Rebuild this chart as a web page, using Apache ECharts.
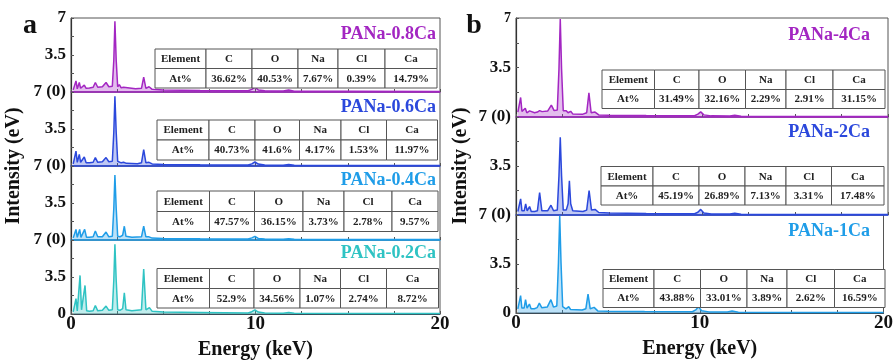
<!DOCTYPE html>
<html>
<head>
<meta charset="utf-8">
<script src="https://cdn.jsdelivr.net/npm/echarts@6/dist/echarts.min.js"></script>
<style>
  html, body { margin: 0; padding: 0; background: #fff; }
  #chart { width: 896px; height: 362px; }
</style>
</head>
<body>
<div id="chart"></div>
<script>
const FONT = '"Liberation Serif", "Times New Roman", serif'

// sample names
const namesA = ['PANa-0.8Ca', 'PANa-0.6Ca', 'PANa-0.4Ca', 'PANa-0.2Ca']
const namesB = ['PANa-4Ca', 'PANa-2Ca', 'PANa-1Ca']

// EDS composition tables
const elements = ['Element', 'C', 'O', 'Na', 'Cl', 'Ca']
const rowLabel = 'At%'
const atA = [
  ['36.62%', '40.53%', '7.67%', '0.39%', '14.79%'],
  ['40.73%', '41.6%', '4.17%', '1.53%', '11.97%'],
  ['47.57%', '36.15%', '3.73%', '2.78%', '9.57%'],
  ['52.9%', '34.56%', '1.07%', '2.74%', '8.72%']
]
const atB = [
  ['31.49%', '32.16%', '2.29%', '2.91%', '31.15%'],
  ['45.19%', '26.89%', '7.13%', '3.31%', '17.48%'],
  ['43.88%', '33.01%', '3.89%', '2.62%', '16.59%']
]

// axis ticks
const xTicks = [0, 10, 20]

// spectra: [energy keV, intensity]
const specA08 = [[0.12,0.2],[0.2,0.3],[0.27,1.05],[0.34,0.3],[0.4,0.35],[0.45,0.9],[0.52,0.35],[0.62,0.35],[0.72,0.65],[0.82,0.35],[1.0,0.38],[1.2,0.45],[1.32,0.9],[1.45,0.45],[1.7,0.5],[1.9,0.9],[2.05,0.5],[2.24,0.55],[2.32,3.0],[2.38,6.7],[2.45,3.0],[2.53,0.5],[2.62,0.7],[2.72,0.4],[2.85,0.45],[2.95,0.35],[3.5,0.3],[3.82,0.35],[3.94,1.4],[4.06,0.35],[4.23,0.5],[4.4,0.25],[5,0.2],[7,0.15],[9.6,0.12],[9.8,0.25],[9.97,0.45],[10.15,0.2],[10.5,0.12],[11.5,0.1],[11.8,0.18],[12.1,0.08],[15,0.06],[20,0.05]]
const specA06 = [[0.12,0.2],[0.2,0.35],[0.27,1.4],[0.34,0.35],[0.4,0.35],[0.45,1.1],[0.52,0.35],[0.62,0.35],[0.72,0.85],[0.82,0.3],[1.0,0.3],[1.2,0.35],[1.32,0.8],[1.45,0.35],[1.7,0.4],[1.9,0.8],[2.05,0.4],[2.24,0.45],[2.32,3.2],[2.38,6.6],[2.45,3.2],[2.53,0.45],[2.62,0.4],[2.72,0.3],[2.85,0.35],[3.0,0.25],[3.6,0.22],[3.82,0.3],[3.94,1.55],[4.06,0.3],[4.23,0.35],[4.4,0.2],[5,0.15],[7,0.12],[9.6,0.1],[9.8,0.2],[9.97,0.4],[10.15,0.18],[10.5,0.1],[11.5,0.08],[11.8,0.15],[12.1,0.07],[15,0.05],[20,0.04]]
const specA04 = [[0.12,0.2],[0.2,0.25],[0.27,1.0],[0.34,0.25],[0.4,0.25],[0.47,1.0],[0.54,0.25],[0.64,0.25],[0.74,1.0],[0.84,0.25],[1.0,0.25],[1.2,0.3],[1.32,0.85],[1.45,0.3],[1.7,0.3],[1.9,0.75],[2.05,0.3],[2.24,0.35],[2.32,3.0],[2.38,6.15],[2.45,3.0],[2.53,0.35],[2.65,0.3],[2.8,0.45],[2.89,1.3],[2.98,0.35],[3.3,0.25],[3.82,0.3],[3.94,1.3],[4.06,0.3],[4.23,0.3],[4.4,0.18],[5,0.15],[7,0.12],[9.6,0.1],[9.8,0.2],[9.97,0.35],[10.15,0.15],[10.5,0.1],[11.5,0.08],[11.8,0.12],[12.1,0.07],[15,0.05],[20,0.04]]
const specA02 = [[0.12,0.2],[0.2,0.3],[0.27,1.45],[0.34,0.3],[0.42,0.4],[0.49,3.65],[0.57,0.4],[0.66,0.35],[0.76,2.7],[0.85,0.3],[1.0,0.25],[1.2,0.3],[1.32,0.8],[1.45,0.3],[1.7,0.35],[1.9,0.75],[2.05,0.35],[2.24,0.4],[2.32,3.2],[2.38,6.6],[2.45,3.2],[2.53,0.4],[2.65,0.35],[2.8,0.5],[2.89,2.0],[2.98,0.4],[3.3,0.3],[3.82,0.4],[3.94,4.25],[4.06,0.4],[4.25,0.6],[4.4,0.25],[5,0.18],[7,0.14],[9.6,0.1],[9.8,0.22],[9.97,0.4],[10.15,0.18],[10.5,0.1],[11.5,0.08],[11.8,0.14],[12.1,0.07],[15,0.05],[20,0.04]]
const specB4 = [[0.1,0.35],[0.18,0.4],[0.25,1.38],[0.32,0.4],[0.42,0.35],[0.5,0.62],[0.58,0.3],[0.66,0.3],[0.73,0.43],[0.82,0.3],[1.0,0.3],[1.15,0.35],[1.27,0.45],[1.4,0.38],[1.7,0.42],[1.9,0.84],[2.05,0.45],[2.22,0.5],[2.31,3.4],[2.38,6.93],[2.45,3.4],[2.54,0.45],[2.7,0.45],[2.8,0.3],[2.94,0.4],[3.05,0.22],[3.6,0.2],[3.8,0.3],[3.92,1.7],[4.04,0.3],[4.25,0.35],[4.45,0.15],[5,0.12],[7,0.1],[9.6,0.09],[9.78,0.2],[9.93,0.36],[10.1,0.15],[10.5,0.08],[11.5,0.07],[11.76,0.12],[12.1,0.05],[15,0.04],[20,0.03]]
const specB2 = [[0.1,0.25],[0.18,0.3],[0.25,1.15],[0.32,0.3],[0.44,0.3],[0.52,0.8],[0.6,0.3],[0.66,0.3],[0.73,0.6],[0.82,0.25],[1.0,0.25],[1.15,0.3],[1.27,1.6],[1.39,0.3],[1.7,0.3],[1.88,0.7],[2.02,0.3],[2.22,0.35],[2.31,2.8],[2.38,5.55],[2.45,2.8],[2.54,0.35],[2.7,0.35],[2.8,0.8],[2.87,2.45],[2.94,0.8],[3.05,0.3],[3.6,0.25],[3.8,0.35],[3.93,1.75],[4.06,0.35],[4.25,0.4],[4.45,0.18],[5,0.14],[7,0.11],[9.6,0.09],[9.78,0.2],[9.93,0.4],[10.1,0.15],[10.5,0.08],[11.5,0.07],[11.76,0.12],[12.1,0.05],[15,0.04],[20,0.03]]
const specB1 = [[0.1,0.3],[0.18,0.35],[0.25,1.24],[0.32,0.35],[0.44,0.35],[0.52,0.95],[0.6,0.35],[0.66,0.35],[0.73,0.64],[0.82,0.3],[1.0,0.3],[1.15,0.38],[1.27,0.7],[1.4,0.38],[1.7,0.42],[1.9,0.95],[2.04,0.42],[2.22,0.5],[2.31,3.6],[2.38,6.95],[2.45,3.6],[2.54,0.45],[2.62,0.45],[2.72,0.3],[2.87,0.45],[2.97,0.25],[3.6,0.22],[3.8,0.3],[3.92,1.35],[4.04,0.3],[4.25,0.4],[4.45,0.15],[5,0.12],[7,0.1],[9.6,0.09],[9.78,0.22],[9.93,0.45],[10.1,0.16],[10.5,0.08],[11.5,0.07],[11.76,0.15],[12.1,0.05],[15,0.04],[20,0.03]]

const colorsA = ['#a326c2', '#2b48dc', '#1f9de8', '#2fc3c3']
const colorsB = ['#a326c2', '#2b48dc', '#1f9de8']

// layout (pixels)
const panelA = { left: 71, width: 369, tops: [18, 92, 166, 240], heights: [74, 74, 74, 74], labelX: 436, labelY: [34, 107.5, 180, 253], topFont: 17 }
const panelB = { left: 516, width: 372, tops: [18, 117, 215], heights: [99, 98, 98], labelX: 870, labelY: [35, 132, 231], topFont: 14 }
const tablesA = [
  { cols: [155, 206, 252, 298, 338, 385, 437], y: [49, 68.5, 88] },
  { cols: [157, 209, 255, 299.5, 341, 386.5, 437.5], y: [120, 140, 160] },
  { cols: [157, 209.5, 254.5, 303, 344, 392, 438], y: [191, 211.5, 231.5] },
  { cols: [157, 209.5, 254, 300, 340.5, 386.5, 438.5], y: [268.5, 288.5, 308] }
]
const tablesB = [
  { cols: [602, 654.5, 699, 745.5, 786, 833, 885], y: [70, 89.5, 108.5] },
  { cols: [601, 653, 699, 745, 786, 831.5, 884], y: [166.5, 186, 205] },
  { cols: [603, 654, 700.5, 747, 787, 834.5, 885], y: [269.5, 288.5, 307.5] }
]

const chart = echarts.init(document.getElementById('chart'))
const grids = []
const xAxes = []
const yAxes = []
const series = []
const graphics = []

function addTable(t, values) {
  const rows = [elements, [rowLabel].concat(values)]
  rows.forEach((row, r) => {
    row.forEach((txt, c) => {
      const x0 = t.cols[c], x1 = t.cols[c + 1], y0 = t.y[r], y1 = t.y[r + 1]
      graphics.push({
        type: 'rect', z: 100,
        shape: { x: x0, y: y0, width: x1 - x0, height: y1 - y0 },
        style: { fill: '#fff', stroke: '#555', lineWidth: 1 }
      })
      graphics.push({
        type: 'text', z: 101, x: (x0 + x1) / 2, y: (y0 + y1) / 2 + 0.5,
        style: { text: txt, fill: '#222', fontFamily: FONT, fontWeight: 'bold', fontSize: 11, align: 'center', verticalAlign: 'middle' }
      })
    })
  })
}

function addPanel(panel, names, spectra, colors, tables, values) {
  const n = names.length
  names.forEach((name, i) => {
    const idx = grids.length
    const last = i === n - 1
    grids.push({
      left: panel.left, top: panel.tops[i], width: panel.width, height: panel.heights[i],
      show: true, borderColor: '#555', borderWidth: 1
    })
    xAxes.push({
      type: 'value', gridIndex: idx, min: 0, max: 20, interval: 2.5,
      axisLine: { onZero: false, lineStyle: { color: last ? '#3a4a55' : colors[i], width: last ? 1.2 : 1.5 } },
      axisTick: { show: true, inside: true, length: 3, lineStyle: { color: '#555' } },
      axisLabel: {
        show: last, margin: 1, color: '#111', fontFamily: FONT, fontWeight: 'bold', fontSize: 19,
        formatter: v => (xTicks.indexOf(v) >= 0 ? String(v) : '')
      },
      splitLine: { show: false },
      name: last ? 'Energy (keV)' : '',
      nameLocation: 'middle', nameGap: 26,
      nameTextStyle: { color: '#111', fontFamily: FONT, fontWeight: 'bold', fontSize: 20 }
    })
    yAxes.push({
      type: 'value', gridIndex: idx, min: 0, max: 7, interval: 1.75,
      axisLine: { onZero: false, lineStyle: { color: '#333', width: 1.2 } },
      axisTick: { inside: true, length: 3, lineStyle: { color: '#555' } },
      axisLabel: {
        margin: 5, color: '#111', fontFamily: FONT, fontWeight: 'bold', fontSize: 17,
        formatter: v => {
          if (v === 7) return i === 0 ? '{t|7}' : '7 (0)'
          if (v === 3.5) return '3.5'
          if (v === 0 && last) return '0'
          return ''
        },
        rich: { t: { fontSize: panel.topFont, fontFamily: FONT, fontWeight: 'bold', color: '#111' } }
      },
      splitLine: { show: false }
    })
    series.push({
      type: 'line', name: name, xAxisIndex: idx, yAxisIndex: idx,
      data: spectra[i], showSymbol: false, silent: true,
      lineStyle: { color: colors[i], width: 1.5 },
      areaStyle: { color: colors[i], opacity: 0.3 }
    })
    graphics.push({
      type: 'text', z: 102, x: panel.labelX, y: panel.labelY[i],
      style: { text: name, fill: colors[i], fontFamily: FONT, fontWeight: 'bold', fontSize: 18, align: 'right', verticalAlign: 'middle' }
    })
    addTable(tables[i], values[i])
  })
}

addPanel(panelA, namesA, [specA08, specA06, specA04, specA02], colorsA, tablesA, atA)
addPanel(panelB, namesB, [specB4, specB2, specB1], colorsB, tablesB, atB)

// panel letters and y titles
graphics.push(
  { type: 'text', x: 30, y: 26, z: 102, style: { text: 'a', fill: '#111', fontFamily: FONT, fontWeight: 'bold', fontSize: 28, align: 'center', verticalAlign: 'middle' } },
  { type: 'text', x: 474, y: 26, z: 102, style: { text: 'b', fill: '#111', fontFamily: FONT, fontWeight: 'bold', fontSize: 28, align: 'center', verticalAlign: 'middle' } },
  { type: 'text', x: 14, y: 166, rotation: Math.PI / 2, z: 102, style: { text: 'Intensity (eV)', fill: '#111', fontFamily: FONT, fontWeight: 'bold', fontSize: 20, align: 'center', verticalAlign: 'middle' } },
  { type: 'text', x: 461, y: 166, rotation: Math.PI / 2, z: 102, style: { text: 'Intensity (eV)', fill: '#111', fontFamily: FONT, fontWeight: 'bold', fontSize: 20, align: 'center', verticalAlign: 'middle' } }
)

chart.setOption({
  animation: false,
  grid: grids,
  xAxis: xAxes,
  yAxis: yAxes,
  series: series,
  graphic: graphics
})
</script>
</body>
</html>
